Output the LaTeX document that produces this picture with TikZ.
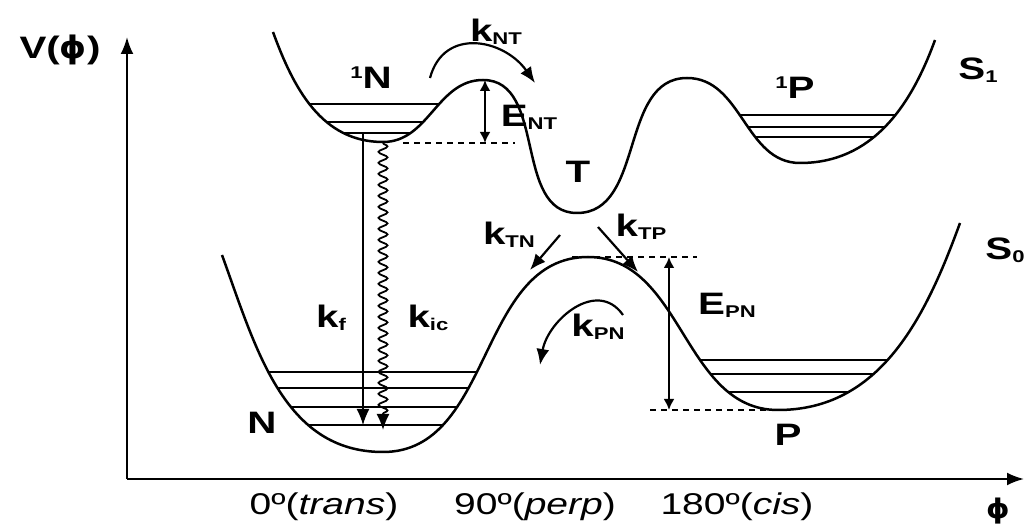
\documentclass[tikz,border=0pt]{standalone}
\usepackage{fontspec}
\setmainfont{Liberation Sans}[FakeStretch=1.3]
\newfontfamily\phifont{DejaVu Sans}[FakeStretch=1.1]
\usetikzlibrary{arrows.meta,decorations.pathmorphing}

\newcommand{\lowtxt}[1]{\raisebox{-3pt}{\fontsize{17}{17}\selectfont #1}}
\newcommand{\uptxt}[1]{\raisebox{10pt}{\fontsize{17}{17}\selectfont #1}}
\newcommand{\phisym}{{\phifont ϕ}}

% potential curves, split so the wells can be reused for clipping
\newcommand{\sonewellN}{(273,495) to[out=-70,in=180] (383,385) to[out=0,in=180] (483,447)}
\newcommand{\sonemid}{to[out=0,in=180] (577,314) to[out=0,in=180] (687,449)}
\newcommand{\sonewellP}{to[out=0,in=180] (800,364) to[out=0,in=-110] (935,487)}
\newcommand{\szerowellN}{(222,272) to[out=-70,in=180] (383,75) to[out=0,in=180] (588,270)}
\newcommand{\szerowellP}{to[out=0,in=180] (778,117) to[out=0,in=-110] (960,304)}

\tikzset{
  curve/.style={line width=2.5pt},
  level/.style={line width=2.2pt},
  axis/.style={line width=2.2pt,-{Latex[length=17pt,width=13pt]}},
  rate/.style={line width=2.2pt,-{Latex[length=16pt,width=13pt]}},
  barrier/.style={line width=2.2pt,{Latex[length=11pt,width=11pt]}-{Latex[length=11pt,width=11pt]}},
  guide/.style={line width=2.2pt,dash pattern=on 6pt off 5pt},
  lbl/.style={font=\fontsize{31}{32}\selectfont\bfseries,inner sep=0pt},
  axlbl/.style={font=\fontsize{30}{32}\selectfont,inner sep=0pt},
}

\begin{document}
\begin{tikzpicture}[x=1pt,y=1pt]
\useasboundingbox (0,0) rectangle (1031,527);

% axes
\coordinate (origin) at (127,48);
\coordinate (vtop) at (127,490);
\coordinate (htip) at (1024,48);
\draw[axis] (origin) -- (vtop);
\draw[axis] (origin) -- (htip);
\node[lbl] (vphi) at (60,477) {V(\phisym)};
\node[axlbl] (trans) at (324,20) {0º(\textit{trans})};
\node[axlbl] (perp) at (535,20) {90º(\textit{perp})};
\node[axlbl] (cis) at (737,20) {180º(\textit{cis})};
\node[lbl,font=\fontsize{27}{28}\selectfont\bfseries] (phiax) at (998,16) {\phisym};

% S1 and S0
\draw[curve] \sonewellN \sonemid \sonewellP;
\draw[curve] \szerowellN \szerowellP;

% vibrational levels
\begin{scope}
  \clip \sonewellN -- cycle;
  \foreach \lv in {423,405,394} \draw[level] (250,\lv) -- (500,\lv);
\end{scope}
\begin{scope}
  \clip (687,449) \sonewellP -- cycle;
  \foreach \lv in {412,400,390} \draw[level] (690,\lv) -- (940,\lv);
\end{scope}
\begin{scope}
  \clip \szerowellN -- cycle;
  \foreach \lv in {155,139,120,102} \draw[level] (200,\lv) -- (600,\lv);
\end{scope}
\begin{scope}
  \clip (588,270) \szerowellP -- cycle;
  \foreach \lv in {167,153,135} \draw[level] (590,\lv) -- (970,\lv);
\end{scope}

% state labels
\node[lbl] (Nex) at (371,449) {\uptxt{1}N};
\node[lbl] (Pex) at (795,439) {\uptxt{1}P};
\node[lbl] (T) at (578,355) {T};
\node[lbl] (S1) at (978,457) {S\lowtxt{1}};
\node[lbl] (S0) at (1005,277) {S\lowtxt{0}};
\node[lbl] (N) at (262,104) {N};
\node[lbl] (P) at (788,92) {P};

% barriers
\coordinate (ENTtop) at (485,447);
\coordinate (ENTbot) at (485,384);
\coordinate (gNTa) at (403,384);
\coordinate (gNTb) at (515,384);
\draw[guide] (gNTa) -- (gNTb);
\draw[barrier] (ENTtop) -- (ENTbot);
\node[lbl] (ENT) at (529,410) {E\lowtxt{NT}};

\coordinate (EPNtop) at (669,270);
\coordinate (EPNbot) at (669,117);
\coordinate (gPNa) at (572,270);
\coordinate (gPNb) at (697,270);
\coordinate (gPNc) at (650,117);
\coordinate (gPNd) at (777,117);
\draw[guide] (gPNa) -- (gPNb);
\draw[guide] (gPNc) -- (gPNd);
\draw[barrier] (EPNtop) -- (EPNbot);
\node[lbl] (EPN) at (727,222) {E\lowtxt{PN}};

% rates
\coordinate (kNTs) at (430,449);
\coordinate (kNTe) at (535,444);
\draw[rate] (kNTs) to[out=75,in=125,looseness=1.3] (kNTe);
\node[lbl] (kNT) at (496,495) {k\lowtxt{NT}};

\coordinate (kTNs) at (560,292);
\coordinate (kTNe) at (530,257);
\draw[rate] (kTNs) -- (kTNe);
\node[lbl] (kTN) at (509,292) {k\lowtxt{TN}};

\coordinate (kTPs) at (598,300);
\coordinate (kTPe) at (638,255);
\draw[rate] (kTPs) -- (kTPe);
\node[lbl] (kTP) at (641,300) {k\lowtxt{TP}};

\coordinate (kPNs) at (623,212);
\coordinate (kPNe) at (540,162);
\draw[rate] (kPNs) to[out=125,in=80,looseness=1.2] (kPNe);
\node[lbl] (kPN) at (598,200) {k\lowtxt{PN}};

% decay from 1N
\coordinate (kfs) at (363,394);
\coordinate (kfe) at (363,102);
\draw[line width=1.4pt,-{Latex[length=16pt,width=13pt]}] (kfs) -- (kfe);
\node[lbl] (kf) at (331,209) {k\lowtxt{f}};

\coordinate (kics) at (383,384);
\coordinate (kice) at (383,97);
\draw[line width=1.8pt,-{Latex[length=16pt,width=13pt]},decorate,
  decoration={snake,amplitude=4.5pt,segment length=11pt,post length=16pt}] (kics) -- (kice);
\node[lbl] (kic) at (428,209) {k\lowtxt{ic}};
\end{tikzpicture}
\end{document}
